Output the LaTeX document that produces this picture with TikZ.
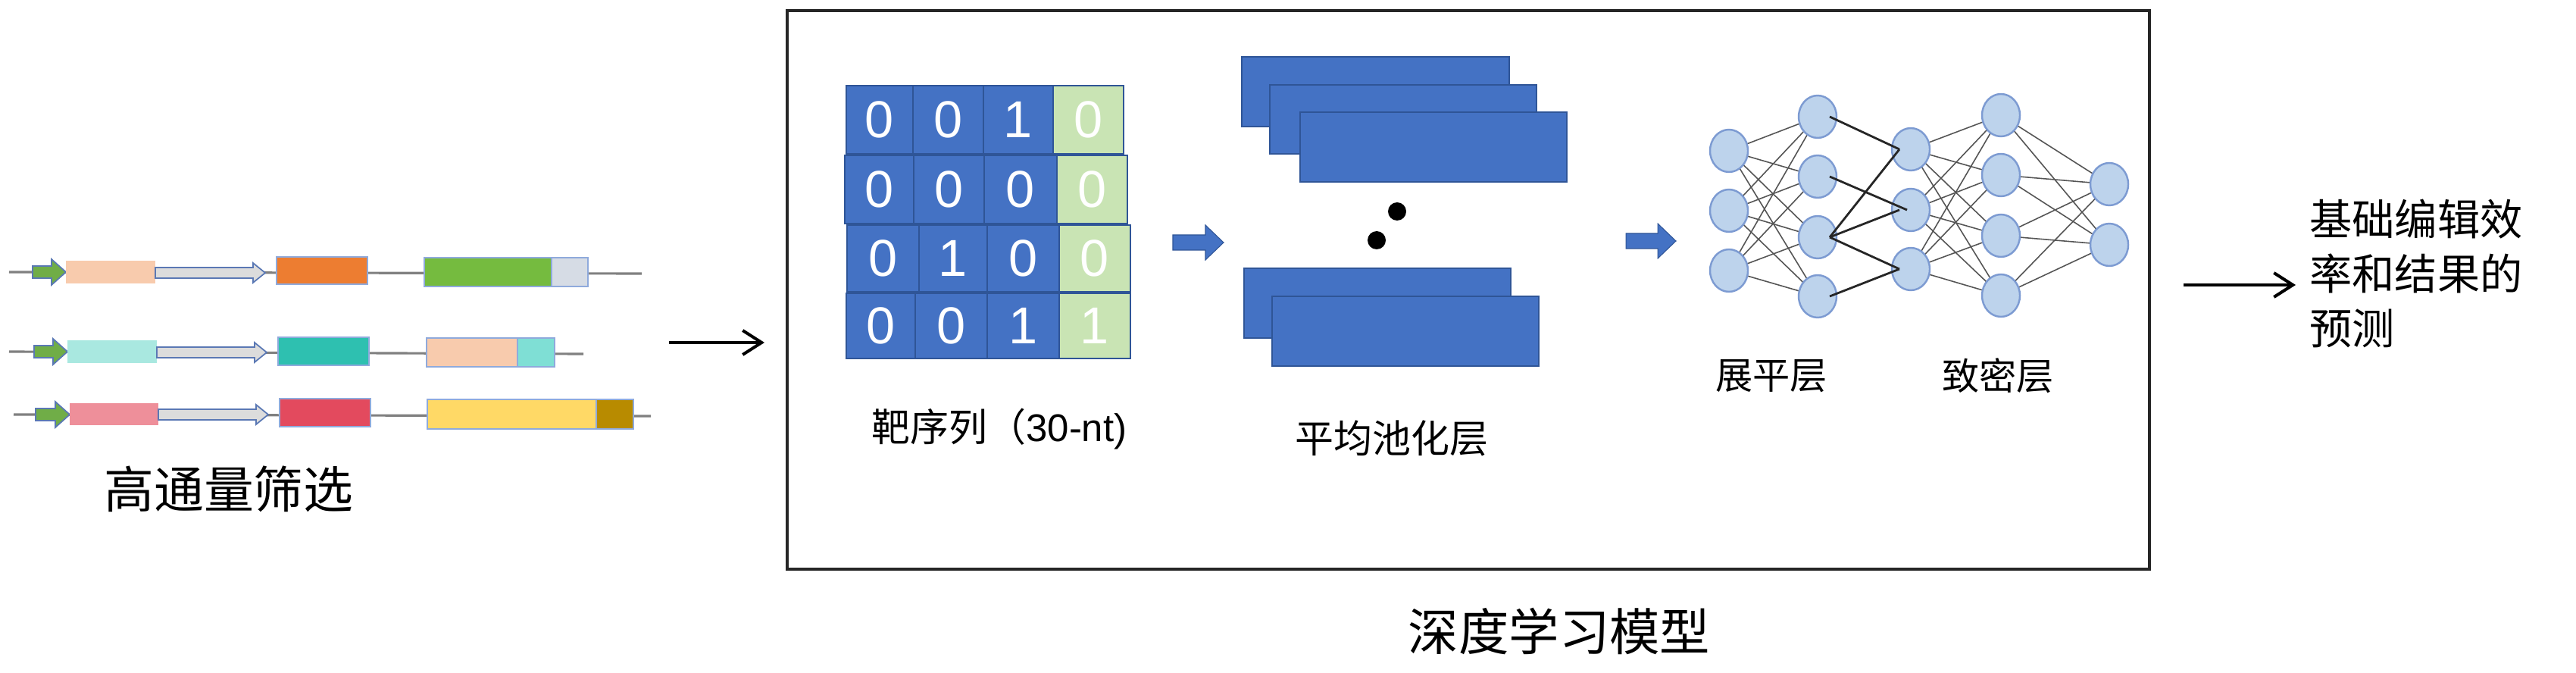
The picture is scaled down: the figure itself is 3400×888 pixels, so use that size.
\documentclass[tikz,border=0pt]{standalone}
\usepackage{fontspec}
\setmainfont{Liberation Sans}
\newfontfamily\cjk{Noto Sans CJK SC}
\usetikzlibrary{shapes.geometric,arrows.meta}
\pgfdeclarelayer{bg}
\pgfsetlayers{bg,main}
\definecolor{cellblue}{RGB}{68,114,196}
\definecolor{cellborder}{RGB}{47,85,151}
\definecolor{cellgreen}{RGB}{201,228,180}
\definecolor{nodefill}{RGB}{189,211,236}
\definecolor{nodeline}{RGB}{125,155,210}
\definecolor{dnaline}{RGB}{128,128,128}
\definecolor{partline}{RGB}{143,170,220}
\definecolor{arrline}{RGB}{90,120,180}
\definecolor{pgreen}{RGB}{112,173,71}
\definecolor{ppeach}{RGB}{248,203,173}
\definecolor{pcyanl}{RGB}{169,232,224}
\definecolor{ppink}{RGB}{238,143,154}
\definecolor{pgray}{RGB}{220,220,220}
\definecolor{porange}{RGB}{237,125,49}
\definecolor{pteal}{RGB}{46,192,176}
\definecolor{pred}{RGB}{227,74,94}
\definecolor{pgreenb}{RGB}{117,187,63}
\definecolor{plgray}{RGB}{214,220,229}
\definecolor{pcyan}{RGB}{127,223,213}
\definecolor{pyellow}{RGB}{255,217,102}
\definecolor{pgold}{RGB}{184,139,0}
\definecolor{edgegray}{RGB}{85,85,85}
\tikzset{
  dna/.style={draw=dnaline, line width=1.8pt},
  part/.style={draw=partline, line width=1pt},
  garrow/.style={fill=pgreen, draw=arrline, line width=1pt},
  grayarrow/.style={fill=pgray, draw=arrline, line width=1pt},
  bluearrow/.style={fill=cellblue, draw=cellborder, line width=0.6pt},
  cellb/.style={fill=cellblue, draw=cellborder, line width=1pt},
  cellg/.style={fill=cellgreen, draw=cellborder, line width=1pt},
  digit/.style={text=white, inner sep=0pt, font=\fontsize{39}{39}\selectfont},
  poolrect/.style={fill=cellblue, draw=cellborder, line width=1pt},
  nn/.style={ellipse, fill=nodefill, draw=nodeline, line width=1.4pt, minimum width=1cm, minimum height=1.12cm, inner sep=0pt},
  edge/.style={draw=edgegray, line width=0.9pt},
  dedge/.style={draw=black!85, line width=1.6pt},
  flow/.style={draw=black, line width=2.3pt, -{Straight Barb[length=5mm, width=6.4mm, line width=2.3pt]}},
  mainbox/.style={draw=black!85, line width=2.2pt},
  lbl/.style={inner sep=0pt, text=black}
}
\newcommand\blockarr[7]{\draw[#7] (#1,#3-#4) -- (#2-#5,#3-#4) -- (#2-#5,#3-#6) -- (#2,#3) -- (#2-#5,#3+#6) -- (#2-#5,#3+#4) -- (#1,#3+#4) -- cycle;}
\newcommand\cellbox[7]{\draw[#5] (#1,#3) rectangle (#2,#4); \node[digit] (#7) at ({(#1+#2)/2},{(#3+#4)/2}) {#6};}
\begin{document}
\begin{tikzpicture}[x=0.02cm, y=-0.02cm]
\useasboundingbox (0,0) rectangle (3400,888);
% ---------- left panel: constructs ----------
% row 1
\draw[dna] (12,359) -- (847,361);
\blockarr{43}{87}{359}{8}{19}{17}{garrow}
\draw[part, fill=ppeach, draw=none] (87,344) rectangle (205,374);
\blockarr{205}{350}{360}{7}{16}{13}{grayarrow}
\draw[part, fill=porange] (365,339) rectangle (485,375);
\draw[part, fill=pgreenb] (560,340) rectangle (728,378);
\draw[part, fill=plgray] (728,340) rectangle (776,378);
% row 2
\draw[dna] (12,464) -- (770,467);
\blockarr{45}{89}{464}{8}{19}{17}{garrow}
\draw[part, fill=pcyanl, draw=none] (89,449) rectangle (207,479);
\blockarr{207}{352}{465}{7}{16}{13}{grayarrow}
\draw[part, fill=pteal] (367,445) rectangle (487,482);
\draw[part, fill=ppeach] (563,446) rectangle (683,484);
\draw[part, fill=pcyan] (683,446) rectangle (732,484);
% row 3
\draw[dna] (18,547) -- (859,549);
\blockarr{47}{92}{547}{8}{19}{17}{garrow}
\draw[part, fill=ppink, draw=none] (92,532) rectangle (209,561);
\blockarr{209}{354}{547}{7}{16}{13}{grayarrow}
\draw[part, fill=pred] (369,526) rectangle (489,563);
\draw[part, fill=pyellow] (564,527) rectangle (787,566);
\draw[part, fill=pgold] (787,527) rectangle (836,566);
\node[lbl, font=\cjk\fontsize{37.5}{37.5}\selectfont] (tscreen) at (302,645) {高通量筛选};
% flow arrow into model
\coordinate (inA) at (883,452);
\coordinate (inB) at (1009,452);
\draw[flow] (inA) -- (inB);
% ---------- main box ----------
\draw[mainbox] (1039,14) rectangle (2837,751);
\node[lbl, font=\cjk\fontsize{37.8}{37.8}\selectfont] (tmodel) at (2058,833) {深度学习模型};
% grid
\cellbox{1117}{1205}{113}{203}{cellb}{0}{c11}
\cellbox{1205}{1298}{113}{203}{cellb}{0}{c12}
\cellbox{1298}{1390}{113}{203}{cellb}{1}{c13}
\cellbox{1390}{1483}{113}{203}{cellg}{0}{c14}
\cellbox{1115}{1206}{205}{295}{cellb}{0}{c21}
\cellbox{1206}{1299}{205}{295}{cellb}{0}{c22}
\cellbox{1299}{1395}{205}{295}{cellb}{0}{c23}
\cellbox{1395}{1488}{205}{295}{cellg}{0}{c24}
\cellbox{1118}{1213}{297}{385}{cellb}{0}{c31}
\cellbox{1213}{1303}{297}{385}{cellb}{1}{c32}
\cellbox{1303}{1398}{297}{385}{cellb}{0}{c33}
\cellbox{1398}{1492}{297}{385}{cellg}{0}{c34}
\cellbox{1117}{1208}{387}{473}{cellb}{0}{c41}
\cellbox{1208}{1303}{387}{473}{cellb}{0}{c42}
\cellbox{1303}{1398}{387}{473}{cellb}{1}{c43}
\cellbox{1398}{1492}{387}{473}{cellg}{1}{c44}
\node[lbl, font=\fontsize{29}{29}\selectfont] (tseq) at (1319,566) {{\cjk 靶序列（}30-nt)};
% blue arrow 1
\blockarr{1548}{1615}{320}{10}{24}{23}{bluearrow}
% pooling
\draw[poolrect] (1639,75) rectangle (1992,167);
\draw[poolrect] (1676,112) rectangle (2028,203);
\draw[poolrect] (1716,148) rectangle (2068,240);
\fill (1844,279) circle[radius=0.24cm];
\fill (1817,317) circle[radius=0.24cm];
\draw[poolrect] (1642,354) rectangle (1994,446);
\draw[poolrect] (1679,391) rectangle (2031,483);
\node[lbl, font=\cjk\fontsize{29}{29}\selectfont] (tpool) at (1837,578) {平均池化层};
% blue arrow 2
\blockarr{2146}{2212}{318}{10}{24}{23}{bluearrow}
% neural network
\foreach \y [count=\i] in {199,278,357} \node[nn] (a\i) at (2282,\y) {};
\foreach \y [count=\i] in {154,233,313,391} \node[nn] (b\i) at (2399,\y) {};
\foreach \y [count=\i] in {197,277,355} \node[nn] (c\i) at (2522,\y) {};
\foreach \y [count=\i] in {152,231,311,390} \node[nn] (d\i) at (2641,\y) {};
\foreach \y [count=\i] in {243,323} \node[nn] (e\i) at (2784,\y) {};
\begin{pgfonlayer}{bg}
\foreach \i in {1,2,3} \foreach \j in {1,2,3,4} \draw[edge] (a\i.center) -- (b\j.center);
\foreach \i in {1,2,3} \foreach \j in {1,2,3,4} \draw[edge] (c\i.center) -- (d\j.center);
\foreach \i in {1,2,3,4} \foreach \j in {1,2} \draw[edge] (d\i.center) -- (e\j.center);
\end{pgfonlayer}
\draw[dedge] ([xshift=0.32cm]b1.center) -- ([xshift=-0.3cm]c1.center);
\draw[dedge] ([xshift=0.32cm]b2.center) -- ([xshift=-0.1cm]c2.center);
\draw[dedge] ([xshift=0.32cm]b3.center) -- ([xshift=-0.3cm]c1.center);
\draw[dedge] ([xshift=0.32cm]b3.center) -- ([xshift=-0.3cm]c2.center);
\draw[dedge] ([xshift=0.32cm]b3.center) -- ([xshift=-0.3cm]c3.center);
\draw[dedge] ([xshift=0.32cm]b4.center) -- ([xshift=-0.3cm]c3.center);
\node[lbl, font=\cjk\fontsize{28}{28}\selectfont] (tflat) at (2338,496) {展平层};
\node[lbl, font=\cjk\fontsize{28}{28}\selectfont] (tdense) at (2637,496) {致密层};
% output
\coordinate (outA) at (2882,376);
\coordinate (outB) at (3030,376);
\draw[flow] (outA) -- (outB);
\node[lbl, anchor=west, align=left, font=\cjk\fontsize{32}{41}\selectfont] (tout) at (3048,361) {基础编辑效\\率和结果的\\预测};
\end{tikzpicture}
\end{document}
